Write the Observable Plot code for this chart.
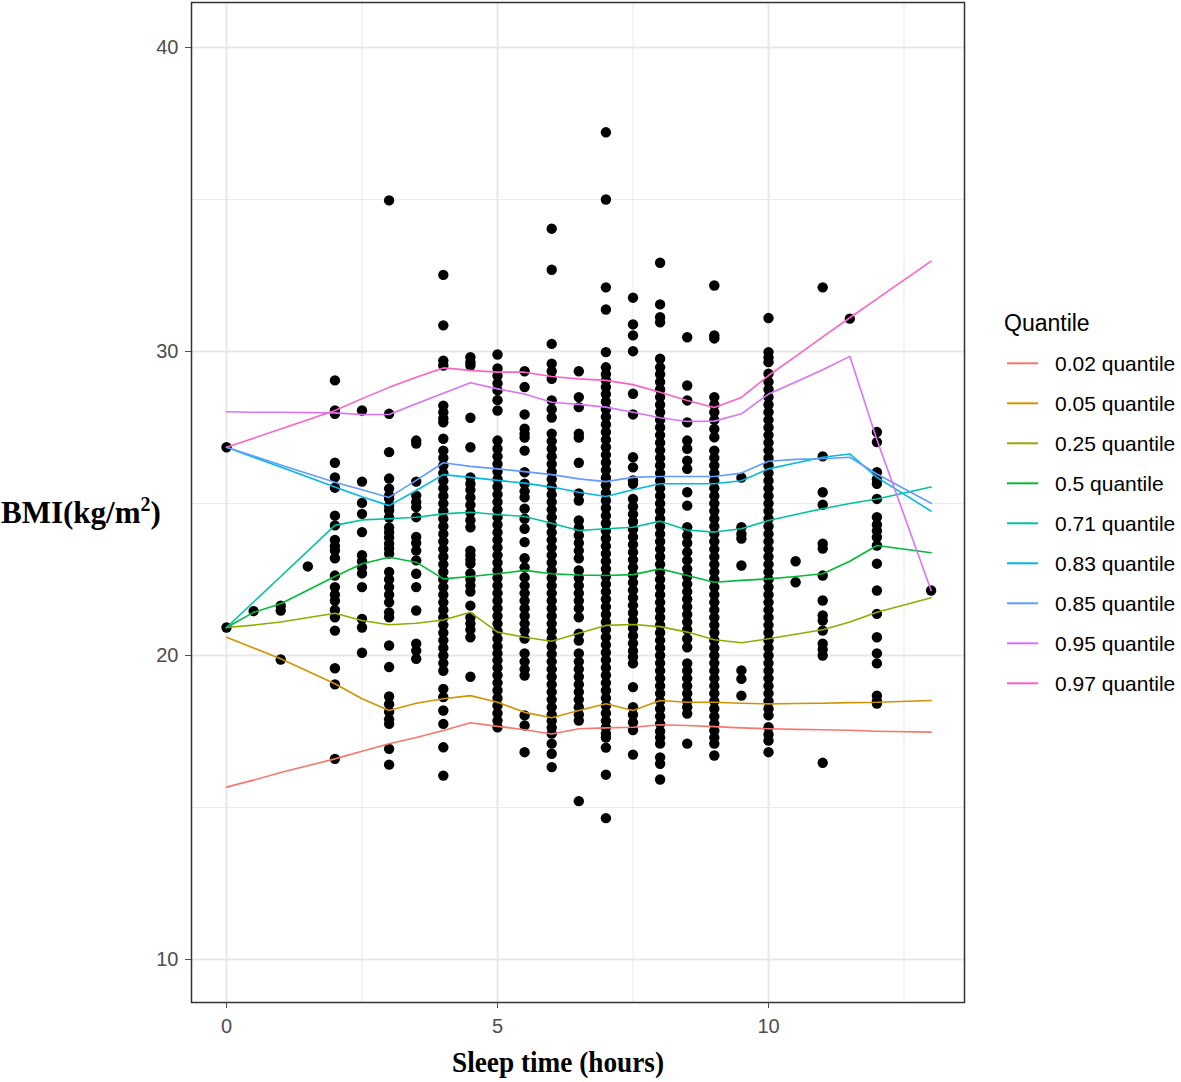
<!DOCTYPE html>
<html>
<head>
<meta charset="utf-8">
<script src="https://cdn.jsdelivr.net/npm/d3@7"></script>
<script src="https://cdn.jsdelivr.net/npm/@observablehq/plot@0.6"></script>
<style>
  body { margin: 0; background: #fff; }
  #wrap { position: relative; width: 1181px; height: 1082px; overflow: hidden; }
</style>
</head>
<body>
<div id="wrap"></div>
<script>
// ---- scatter data: BMI values observed at each sleep-time value ----
const h0 = [26.85, 20.92];
const h0_5 = [21.46];
const h1 = [21.64, 21.48, 19.87];
const h1_5 = [22.93];
const h2 = [29.05, 28.06, 27.95, 26.34, 25.86, 25.52, 24.6, 24.28, 23.8, 23.6, 23.45, 23.2, 22.63, 22.25, 22.0, 21.8, 21.5, 21.26, 20.82, 19.58, 19.05, 16.6];
const h2_5 = [28.06, 25.72, 25.02, 24.66, 24.06, 23.3, 23.1, 22.9, 22.7, 22.25, 21.2, 20.92, 20.09];
const h3 = [34.97, 27.95, 26.69, 25.82, 25.49, 25.26, 25.16, 24.93, 24.77, 24.54, 24.21, 24.05, 23.88, 23.68, 23.52, 23.35, 22.75, 22.5, 22.25, 22.0, 21.75, 21.42, 21.26, 20.33, 19.62, 18.65, 18.4, 18.15, 17.9, 17.75, 16.93, 16.41];
const h3_5 = [27.07, 26.97, 25.72, 25.26, 25.05, 24.88, 24.55, 23.9, 23.7, 23.45, 23.13, 22.69, 22.25, 21.48, 20.39, 20.16, 19.89];
const h4 = [32.52, 30.86, 29.7, 29.54, 28.22, 28.0, 27.8, 27.67, 27.13, 26.74, 26.5, 26.25, 26.0, 25.75, 25.5, 25.25, 25.0, 24.75, 24.5, 24.25, 24.0, 23.75, 23.5, 23.25, 23.0, 22.75, 22.5, 22.25, 22.0, 21.75, 21.5, 21.25, 21.0, 20.75, 20.5, 20.25, 20.0, 19.75, 19.5, 18.9, 18.63, 18.19, 17.75, 16.98, 16.05];
const h4_5 = [29.81, 29.65, 29.54, 27.82, 26.85, 25.86, 25.65, 25.45, 25.2, 24.95, 24.7, 24.45, 24.22, 23.45, 23.3, 23.15, 23.02, 22.7, 22.5, 22.3, 22.1, 21.64, 21.25, 21.05, 20.85, 20.6, 19.3];
const h5 = [29.9, 29.44, 29.2, 28.95, 28.72, 28.4, 28.06, 27.07, 26.8, 26.55, 26.3, 26.05, 25.8, 25.55, 25.3, 25.05, 24.8, 24.55, 24.3, 24.05, 23.8, 23.55, 23.3, 23.05, 22.8, 22.55, 22.3, 22.05, 21.8, 21.55, 21.3, 21.05, 20.8, 20.55, 20.3, 20.07, 19.84, 19.6, 19.35, 19.1, 18.85, 18.6, 18.35, 18.1, 17.86, 17.64];
const h5_5 = [29.35, 28.83, 27.93, 27.46, 27.3, 27.17, 26.74, 26.03, 25.65, 25.4, 25.2, 24.83, 24.5, 24.17, 23.73, 23.2, 22.9, 22.57, 22.3, 22.05, 21.8, 21.55, 21.3, 21.05, 20.82, 20.56, 20.07, 19.8, 19.55, 19.34, 18.03, 17.7, 16.82];
const h6 = [34.04, 32.69, 30.25, 29.6, 29.35, 29.1, 28.39, 28.1, 27.83, 27.3, 27.05, 26.8, 26.55, 26.3, 26.05, 25.8, 25.55, 25.3, 25.05, 24.8, 24.55, 24.3, 24.05, 23.8, 23.55, 23.3, 23.05, 22.8, 22.55, 22.3, 22.05, 21.8, 21.55, 21.3, 21.05, 20.8, 20.55, 20.3, 20.05, 19.8, 19.55, 19.3, 19.05, 18.8, 18.55, 18.3, 18.05, 17.85, 17.63, 17.43, 17.1, 16.77, 16.33];
const h6_5 = [29.35, 28.5, 28.17, 27.3, 27.17, 26.34, 25.33, 25.1, 24.44, 24.2, 23.95, 23.7, 23.45, 23.2, 22.8, 22.55, 22.3, 22.05, 21.8, 21.55, 21.26, 20.72, 20.49, 20.07, 19.8, 19.55, 19.3, 19.05, 18.8, 18.55, 18.3, 18.05, 17.86, 15.21];
const h7 = [37.21, 35.0, 32.11, 31.38, 29.98, 29.48, 29.25, 29.05, 28.83, 28.6, 28.35, 28.1, 27.85, 27.6, 27.35, 27.1, 26.85, 26.6, 26.35, 26.1, 25.85, 25.6, 25.35, 25.1, 24.85, 24.6, 24.35, 24.1, 23.85, 23.6, 23.35, 23.1, 22.85, 22.6, 22.35, 22.1, 21.85, 21.6, 21.35, 21.1, 20.85, 20.6, 20.35, 20.1, 19.85, 19.6, 19.35, 19.1, 18.85, 18.6, 18.35, 18.1, 17.85, 17.63, 17.43, 17.3, 16.97, 16.08, 14.65];
const h7_5 = [31.77, 30.89, 30.53, 30.01, 28.61, 27.93, 26.52, 26.19, 25.76, 25.65, 25.15, 24.9, 24.65, 24.4, 24.15, 23.9, 23.65, 23.4, 23.15, 22.9, 22.65, 22.4, 22.15, 21.9, 21.65, 21.4, 21.15, 20.9, 20.65, 20.4, 20.15, 19.95, 19.74, 18.96, 18.3, 18.05, 17.8, 17.55, 16.74];
const h8 = [32.92, 31.55, 31.13, 30.96, 29.76, 29.48, 29.25, 29.0, 28.75, 28.5, 28.25, 28.0, 27.75, 27.5, 27.25, 27.0, 26.75, 26.5, 26.25, 26.0, 25.75, 25.5, 25.25, 25.0, 24.75, 24.5, 24.25, 24.0, 23.75, 23.5, 23.25, 23.0, 22.75, 22.5, 22.25, 22.0, 21.75, 21.5, 21.25, 21.0, 20.75, 20.5, 20.25, 20.0, 19.75, 19.5, 19.25, 19.0, 18.75, 18.5, 18.25, 18.0, 17.75, 17.5, 17.3, 17.1, 16.65, 16.44, 15.92];
const h8_5 = [30.47, 28.88, 28.39, 27.67, 27.07, 26.8, 26.41, 26.14, 25.37, 24.93, 24.22, 23.95, 23.7, 23.4, 23.13, 22.85, 22.6, 22.35, 22.1, 21.85, 21.6, 21.35, 21.1, 20.85, 20.55, 20.27, 19.74, 19.5, 19.25, 19.0, 18.75, 18.5, 18.3, 18.09, 17.1];
const h9 = [32.17, 30.53, 30.43, 28.5, 28.25, 28.0, 27.75, 27.45, 27.18, 26.74, 26.5, 26.25, 26.0, 25.75, 25.5, 25.25, 25.0, 24.75, 24.5, 24.25, 24.0, 23.75, 23.5, 23.25, 23.0, 22.75, 22.5, 22.25, 22.0, 21.75, 21.5, 21.25, 21.0, 20.75, 20.5, 20.25, 20.0, 19.75, 19.5, 19.25, 19.0, 18.75, 18.5, 18.25, 18.0, 17.76, 17.53, 17.3, 17.1, 16.71];
const h9_5 = [25.85, 24.22, 24.0, 23.85, 22.96, 19.51, 19.23, 18.68];
const h10 = [31.1, 29.98, 29.8, 29.65, 29.27, 29.0, 28.75, 28.5, 28.25, 28.0, 27.75, 27.5, 27.25, 27.0, 26.75, 26.5, 26.25, 26.0, 25.75, 25.5, 25.25, 25.0, 24.75, 24.5, 24.25, 24.0, 23.75, 23.5, 23.25, 23.0, 22.75, 22.5, 22.25, 22.0, 21.75, 21.5, 21.25, 21.0, 20.75, 20.5, 20.25, 20.0, 19.75, 19.5, 19.25, 19.0, 18.75, 18.5, 18.25, 18.03, 17.64, 17.4, 17.2, 16.82];
const h10_5 = [23.1, 22.41];
const h11 = [32.11, 26.55, 25.37, 24.96, 23.68, 23.52, 22.63, 21.81, 21.32, 21.15, 20.82, 20.39, 20.2, 20.0, 16.47];
const h11_5 = [31.08];
const h12 = [27.35, 27.02, 26.03, 25.8, 25.65, 25.15, 24.55, 24.3, 24.1, 23.89, 23.62, 23.02, 22.14, 21.37, 20.6, 20.07, 19.74, 18.68, 18.5, 18.42];
const h13 = [22.14];

const columns = [
  [0, h0], [0.5, h0_5], [1, h1], [1.5, h1_5], [2, h2], [2.5, h2_5], [3, h3], [3.5, h3_5],
  [4, h4], [4.5, h4_5], [5, h5], [5.5, h5_5], [6, h6], [6.5, h6_5], [7, h7], [7.5, h7_5],
  [8, h8], [8.5, h8_5], [9, h9], [9.5, h9_5], [10, h10], [10.5, h10_5], [11, h11],
  [11.5, h11_5], [12, h12], [13, h13]
];

// ---- quantile regression curves ----
const knotHours = [0, 0.5, 1, 2, 2.5, 3, 3.5, 4, 4.5, 5, 5.5, 6, 6.5, 7, 7.5, 8, 8.5, 9, 9.5, 10, 10.5, 11, 11.5, 12, 13];
const q02 = [15.67, 15.9, 16.15, 16.6, 16.85, 17.1, 17.3, 17.53, 17.79, 17.67, 17.56, 17.42, 17.59, 17.62, 17.64, 17.72, 17.70, 17.66, 17.62, 17.59, 17.57, 17.56, 17.54, 17.51, 17.48];
const q05 = [20.6, 20.25, 19.89, 19.07, 18.58, 18.19, 18.43, 18.58, 18.68, 18.46, 18.13, 17.95, 18.19, 18.41, 18.19, 18.52, 18.46, 18.46, 18.43, 18.41, 18.42, 18.43, 18.45, 18.46, 18.52];
const q25 = [20.92, 21.0, 21.1, 21.39, 21.15, 21.01, 21.06, 21.17, 21.42, 20.77, 20.6, 20.47, 20.73, 20.99, 21.02, 20.95, 20.77, 20.52, 20.42, 20.55, 20.7, 20.85, 21.1, 21.42, 21.9];
const q50 = [20.92, 21.42, 21.7, 22.6, 23.02, 23.23, 23.07, 22.52, 22.6, 22.69, 22.8, 22.69, 22.65, 22.63, 22.66, 22.85, 22.63, 22.41, 22.47, 22.52, 22.6, 22.69, 23.1, 23.62, 23.38];
const q71 = [20.92, 21.76, 22.6, 24.28, 24.46, 24.5, 24.55, 24.66, 24.71, 24.64, 24.57, 24.35, 24.11, 24.17, 24.22, 24.42, 24.13, 24.06, 24.17, 24.44, 24.64, 24.83, 25.0, 25.15, 25.54];
const q83 = [26.85, 26.52, 26.2, 25.54, 25.22, 24.93, 25.43, 25.95, 25.86, 25.76, 25.67, 25.54, 25.37, 25.23, 25.45, 25.65, 25.65, 25.65, 25.75, 26.14, 26.33, 26.52, 26.63, 25.86, 24.75];
const q85 = [26.85, 26.56, 26.27, 25.70, 25.45, 25.2, 25.76, 26.34, 26.22, 26.14, 26.05, 25.95, 25.81, 25.72, 25.86, 25.89, 25.89, 25.89, 26.0, 26.39, 26.45, 26.47, 26.52, 25.97, 25.01];
const q95 = [28.02, 28.0, 28.0, 27.98, 27.93, 27.93, 28.28, 28.63, 28.97, 28.77, 28.6, 28.33, 28.26, 28.17, 28.0, 27.82, 27.70, 27.71, 27.95, 28.6, 29.0, 29.4, 29.84, 27.1, 22.14];
const q97 = [26.85, 27.15, 27.45, 28.06, 28.45, 28.82, 29.15, 29.46, 29.38, 29.32, 29.32, 29.18, 29.10, 29.05, 28.91, 28.66, 28.39, 28.16, 28.49, 29.21, 29.84, 30.48, 31.11, 31.73, 32.97];

const quantileLabels = ["0.02 quantile", "0.05 quantile", "0.25 quantile", "0.5 quantile", "0.71 quantile", "0.83 quantile", "0.85 quantile", "0.95 quantile", "0.97 quantile"];
const quantileSeries = [q02, q05, q25, q50, q71, q83, q85, q95, q97];
const quantileColors = ["#F8766D", "#D39200", "#93AA00", "#00BA38", "#00C19F", "#00B9E3", "#619CFF", "#DB72FB", "#FF61C3"];

const xTicks = [0, 5, 10];
const xMinor = [2.5, 7.5, 12.5];
const yTicks = [10, 20, 30, 40];
const yMinor = [15, 25, 35];

// ---- build tables ----
const points = columns.flatMap(([h, arr]) => arr.map(b => ({hours: h, bmi: b})));
const lineRows = quantileSeries.flatMap((s, i) => s.map((v, j) => ({q: quantileLabels[i], hours: knotHours[j], bmi: v})));

const W = 1181, H = 1082;
const plot = Plot.plot({
  width: W, height: H,
  marginLeft: 191, marginRight: 217, marginTop: 2, marginBottom: 80,
  x: {domain: [-0.646, 13.616]},
  y: {domain: [8.586, 41.48]},
  color: {domain: quantileLabels, range: quantileColors},
  style: {fontFamily: "'Liberation Sans', Arial, sans-serif", background: "white", overflow: "visible"},
  marks: [
    Plot.gridX(xMinor, {stroke: "#ebebeb", strokeOpacity: 1, strokeWidth: 1.1}),
    Plot.gridY(yMinor, {stroke: "#ebebeb", strokeOpacity: 1, strokeWidth: 1.1}),
    Plot.gridX(xTicks, {stroke: "#e8e8e8", strokeOpacity: 1, strokeWidth: 2}),
    Plot.gridY(yTicks, {stroke: "#e8e8e8", strokeOpacity: 1, strokeWidth: 2}),
    Plot.dot(points, {x: "hours", y: "bmi", r: 5.2, fill: "black", stroke: null}),
    Plot.line(lineRows, {x: "hours", y: "bmi", z: "q", stroke: "q", strokeWidth: 1.6}),
    Plot.frame({stroke: "#333333", strokeWidth: 1.5}),
    Plot.axisX(xTicks, {tickSize: 6, tickPadding: 10, fontSize: 20, color: "#4d4d4d", label: null}),
    Plot.axisY(yTicks, {tickSize: 6, tickPadding: 7, fontSize: 20, color: "#4d4d4d", label: null})
  ]
});

const wrap = document.getElementById("wrap");
wrap.appendChild(plot);

// ---- axis titles and legend drawn into the same SVG ----
const svg = d3.select(plot.tagName.toLowerCase() === "svg" ? plot : plot.querySelector("svg"));
const serif = "'Liberation Serif', 'Times New Roman', serif";

svg.append("text")
  .attr("x", 558).attr("y", 1072)
  .attr("text-anchor", "middle")
  .attr("font-family", serif).attr("font-weight", "bold").attr("font-size", 30)
  .attr("fill", "black")
  .attr("textLength", 212).attr("lengthAdjust", "spacingAndGlyphs")
  .text("Sleep time (hours)");

const yt = svg.append("text")
  .attr("x", 1).attr("y", 523)
  .attr("text-anchor", "start")
  .attr("font-family", serif).attr("font-weight", "bold").attr("font-size", 31)
  .attr("fill", "black");
yt.append("tspan").text("BMI(kg/m");
yt.append("tspan").attr("dy", -12).attr("font-size", 20).text("2");
yt.append("tspan").attr("dy", 12).text(")");

const lg = svg.append("g").attr("font-family", "'Liberation Sans', Arial, sans-serif").attr("text-anchor", "start");
lg.append("text").attr("x", 1004).attr("y", 331).attr("font-size", 23).attr("fill", "black").attr("text-anchor", "start").text("Quantile");
quantileLabels.forEach((lab, i) => {
  const y = 363.3 + i * 40;
  lg.append("line").attr("x1", 1007).attr("x2", 1038).attr("y1", y).attr("y2", y)
    .attr("stroke", quantileColors[i]).attr("stroke-width", 2);
  lg.append("text").attr("x", 1055).attr("y", y + 7.5).attr("font-size", 21).attr("fill", "black").attr("text-anchor", "start").text(lab);
});
</script>
</body>
</html>
